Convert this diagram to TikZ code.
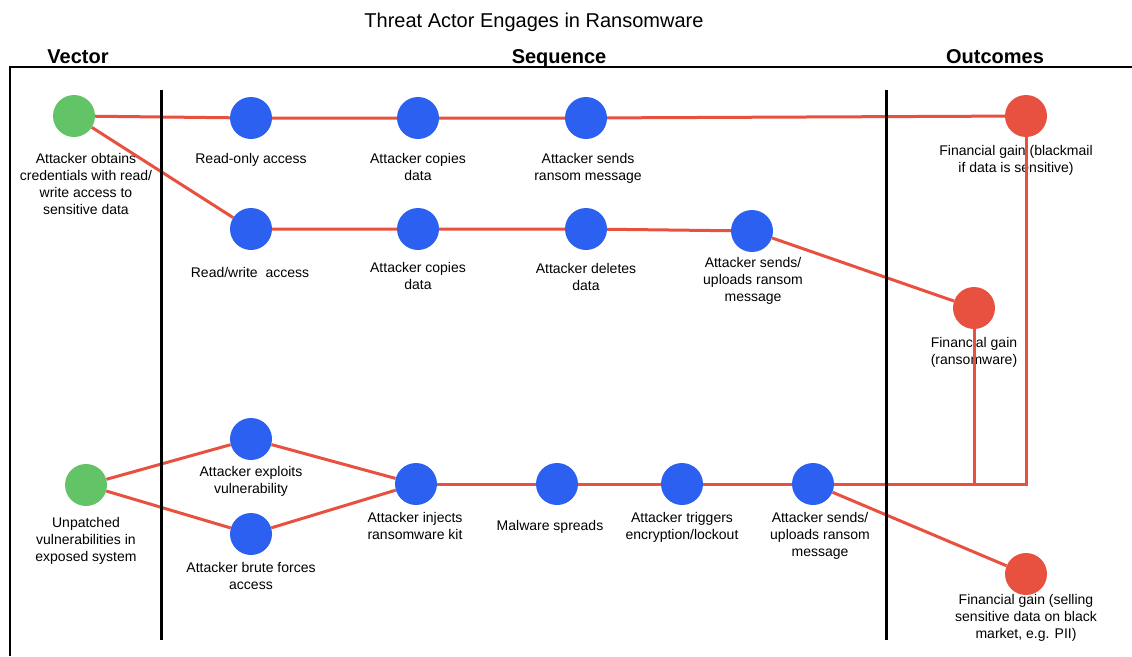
\documentclass[tikz,border=0pt]{standalone}
\usepackage{fontspec}
\setmainfont{Liberation Sans}
\usetikzlibrary{backgrounds}
\pgfdeclarelayer{labels}
\pgfsetlayers{labels,background,main}

\definecolor{linkred}{RGB}{232,80,64}
\definecolor{outred}{RGB}{232,80,64}
\definecolor{actblue}{RGB}{43,96,240}
\definecolor{vecgreen}{RGB}{98,196,102}

\begin{document}
\begin{tikzpicture}[x=1pt,y=-1pt,
  dot/.style={circle,minimum size=42pt,inner sep=0pt},
  vec/.style={dot,fill=vecgreen},
  act/.style={dot,fill=actblue},
  outc/.style={dot,fill=outred},
  lbl/.style={font=\fontsize{14}{17}\selectfont,align=center,inner sep=0pt,anchor=north},
  head/.style={font=\fontsize{20}{24}\selectfont\bfseries,anchor=base,inner sep=0pt},
  link/.style={draw=linkred,line width=3pt},
  divider/.style={draw=black,line width=3pt}
]
\useasboundingbox (0,0) rectangle (1132,656);

% title and column headings
\node[font=\fontsize{20}{24}\selectfont,anchor=base,inner sep=0pt] (title) at (534,27) {Threat Actor Engages in Ransomware};
\node[head] (hvec) at (78,63) {Vector};
\node[head] (hseq) at (559,63) {Sequence};
\node[head] (hout) at (995,63) {Outcomes};

% frame and column dividers
\draw[line width=2pt] (1132,67) -- (10,67) -- (10,656);
\draw[divider] (161,90) -- (161,640);
\draw[divider] (886.5,90) -- (886.5,640);

% vectors
\node[vec] (g1) at (74,116) {};
\node[vec] (g2) at (86,485) {};

% read-only branch
\node[act] (ro) at (251,118) {};
\node[act] (c1) at (418,118) {};
\node[act] (s1) at (586,118) {};

% read/write branch
\node[act] (rw) at (251,229) {};
\node[act] (c2) at (418,229) {};
\node[act] (dl) at (586,229) {};
\node[act] (s2) at (752,231) {};

% vulnerability branch
\node[act] (ex) at (251,439) {};
\node[act] (bf) at (251,534) {};
\node[act] (inj) at (416,484) {};
\node[act] (sp) at (557,484) {};
\node[act] (tr) at (682,484) {};
\node[act] (s3) at (813,484) {};

% outcomes
\node[outc] (fb) at (1026,116) {};
\node[outc] (fr) at (974,308) {};
\node[outc] (fs) at (1026,574) {};

% labels
\begin{pgfonlayer}{labels}
\node[lbl] (lg1) at (86,153.5) {Attacker obtains\\credentials with read/\\write access to\\sensitive data};
\node[lbl] (lro) at (251,153.5) {Read-only access};
\node[lbl] (lc1) at (418,153.5) {Attacker copies\\data};
\node[lbl] (ls1) at (588,153.5) {Attacker sends\\ransom message};
\node[lbl] (lfb) at (1016,145.5) {Financial gain (blackmail\\if data is sensitive)};
\node[lbl] (lrw) at (250,267.5) {Read/write\ \ access};
\node[lbl] (lc2) at (418,262.5) {Attacker copies\\data};
\node[lbl] (ldl) at (586,263.5) {Attacker deletes\\data};
\node[lbl] (ls2) at (753,257.5) {Attacker sends/\\uploads ransom\\message};
\node[lbl] (lfr) at (974,337.5) {Financial gain\\(ransomware)};
\node[lbl] (lex) at (251,466.5) {Attacker exploits\\vulnerability};
\node[lbl] (lbf) at (251,562.5) {Attacker brute forces\\access};
\node[lbl] (lg2) at (86,517.5) {Unpatched\\vulnerabilities in\\exposed system};
\node[lbl] (linj) at (415,512.5) {Attacker injects\\ransomware kit};
\node[lbl] (lsp) at (550,520.5) {Malware spreads};
\node[lbl] (ltr) at (682,512.5) {Attacker triggers\\encryption/lockout};
\node[lbl] (ls3) at (820,512.5) {Attacker sends/\\uploads ransom\\message};
\node[lbl] (lfs) at (1026,594.5) {Financial gain (selling\\sensitive data on black\\market, e.g. PII)};
\end{pgfonlayer}

% connectors
\begin{pgfonlayer}{background}
\draw[link] (g1) -- (ro) -- (c1) -- (s1) -- (fb);
\draw[link] (g1) -- (rw) -- (c2) -- (dl) -- (s2) -- (fr);
\draw[link] (g2) -- (ex) -- (inj);
\draw[link] (g2) -- (bf) -- (inj);
\draw[link] (inj) -- (sp) -- (tr) -- (s3) -| (fb);
\draw[link] (fr) -- (fr |- s3);
\draw[link] (s3) -- (fs);
\end{pgfonlayer}
\end{tikzpicture}
\end{document}
